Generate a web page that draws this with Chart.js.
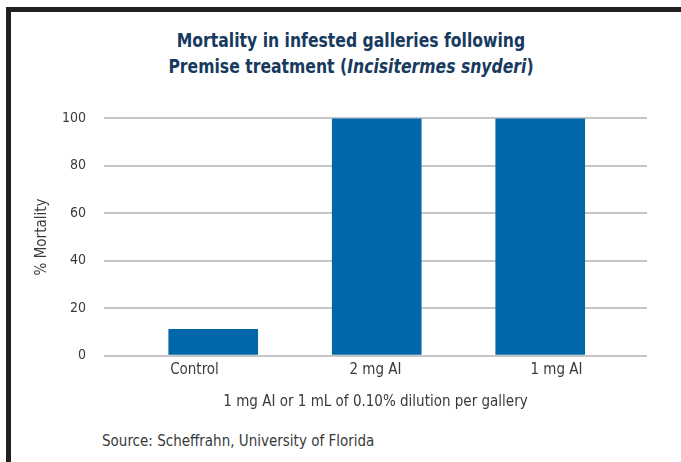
<!DOCTYPE html>
<html>
<head>
<meta charset="utf-8">
<script src="https://cdn.jsdelivr.net/npm/chart.js@4.4.1/dist/chart.umd.min.js"></script>
<style>
  html, body { margin: 0; padding: 0; background: #fff; }
  body { width: 681px; height: 462px; position: relative; overflow: hidden; }
  .moldura {
    position: absolute; left: 6px; top: 7px; width: 720px; height: 500px;
    border-left: 5px solid #231f20; border-top: 5px solid #231f20;
  }
  .titulo {
    position: absolute; left: 0; top: 27px; width: 702px; text-align: center;
    font-family: "Liberation Sans Narrow", "DejaVu Sans Condensed", sans-serif;
    font-weight: bold; font-size: 19px; line-height: 26px; color: #173a5e;
    transform: scaleX(0.915); transform-origin: 351px 0;
  }
  .fonte {
    position: absolute; left: 102px; top: 432px;
    font-family: "Liberation Sans Narrow", "DejaVu Sans Condensed", sans-serif;
    font-size: 15px; color: #3a3a3a;
  }
  #grafico-wrap { position: absolute; left: 0; top: 92px; width: 681px; height: 325px; }
</style>
</head>
<body>
<div class="moldura"></div>
<div class="titulo">Mortality in infested galleries following<br>Premise treatment (<i>Incisitermes snyderi</i>)</div>
<div id="grafico-wrap"><canvas id="grafico"></canvas></div>
<div class="fonte">Source: Scheffrahn, University of Florida</div>
<script>
// Dados do gráfico
const categorias = ["Control", "2 mg AI", "1 mg AI"];
const mortalidade = [11, 100, 100];
const ticksY = [0, 20, 40, 60, 80, 100];
const tituloY = "% Mortality";
const tituloX = "1 mg AI or 1 mL of 0.10% dilution per gallery";

const FONTE = '"Liberation Sans Narrow", "DejaVu Sans Condensed", sans-serif';
const COR_TEXTO = "#3a3a3a";
const COR_GRADE = "#c6c6c8";

// Barras ficam num eixo linear oculto (no original estão um pouco deslocadas dos rótulos)
const pontos = categorias.map((c, i) => ({ x: i, y: mortalidade[i] }));

new Chart(document.querySelector("#grafico"), {
  type: "bar",
  data: {
    labels: categorias,
    datasets: [
      {
        label: tituloY,
        data: pontos,
        xAxisID: "xBarras",
        backgroundColor: "#0068a9",
        barThickness: 89,
      },
    ],
  },
  options: {
    responsive: true,
    maintainAspectRatio: false,
    animation: false,
    layout: { padding: { left: 0, right: 34, top: 12, bottom: 6 } },
    plugins: {
      legend: { display: false },
      tooltip: { enabled: false },
    },
    scales: {
      x: {
        type: "category",
        offset: true,
        grid: { display: false },
        border: { display: false },
        ticks: { color: COR_TEXTO, font: { family: FONTE, size: 15 }, padding: -2 },
        title: {
          display: true,
          text: tituloX,
          color: COR_TEXTO,
          font: { family: FONTE, size: 15 },
          padding: { top: 15.5, bottom: 0 },
        },
      },
      xBarras: {
        type: "linear",
        display: false,
        offset: false,
        grid: { offset: false },
        min: -0.668,
        max: 2.653,
      },
      y: {
        min: 0,
        max: 100,
        afterBuildTicks: (eixo) => {
          eixo.ticks = ticksY.map((v) => ({ value: v }));
        },
        afterFit: (eixo) => {
          eixo.width = 104;
        },
        grid: { color: COR_GRADE, lineWidth: 2, drawTicks: false },
        border: { display: false },
        ticks: { color: COR_TEXTO, font: { family: FONTE, size: 14 }, padding: 18 },
        title: {
          display: true,
          text: tituloY,
          color: COR_TEXTO,
          font: { family: FONTE, size: 15 },
          padding: { top: 33, bottom: 0 },
        },
      },
    },
  },
});
</script>
</body>
</html>
